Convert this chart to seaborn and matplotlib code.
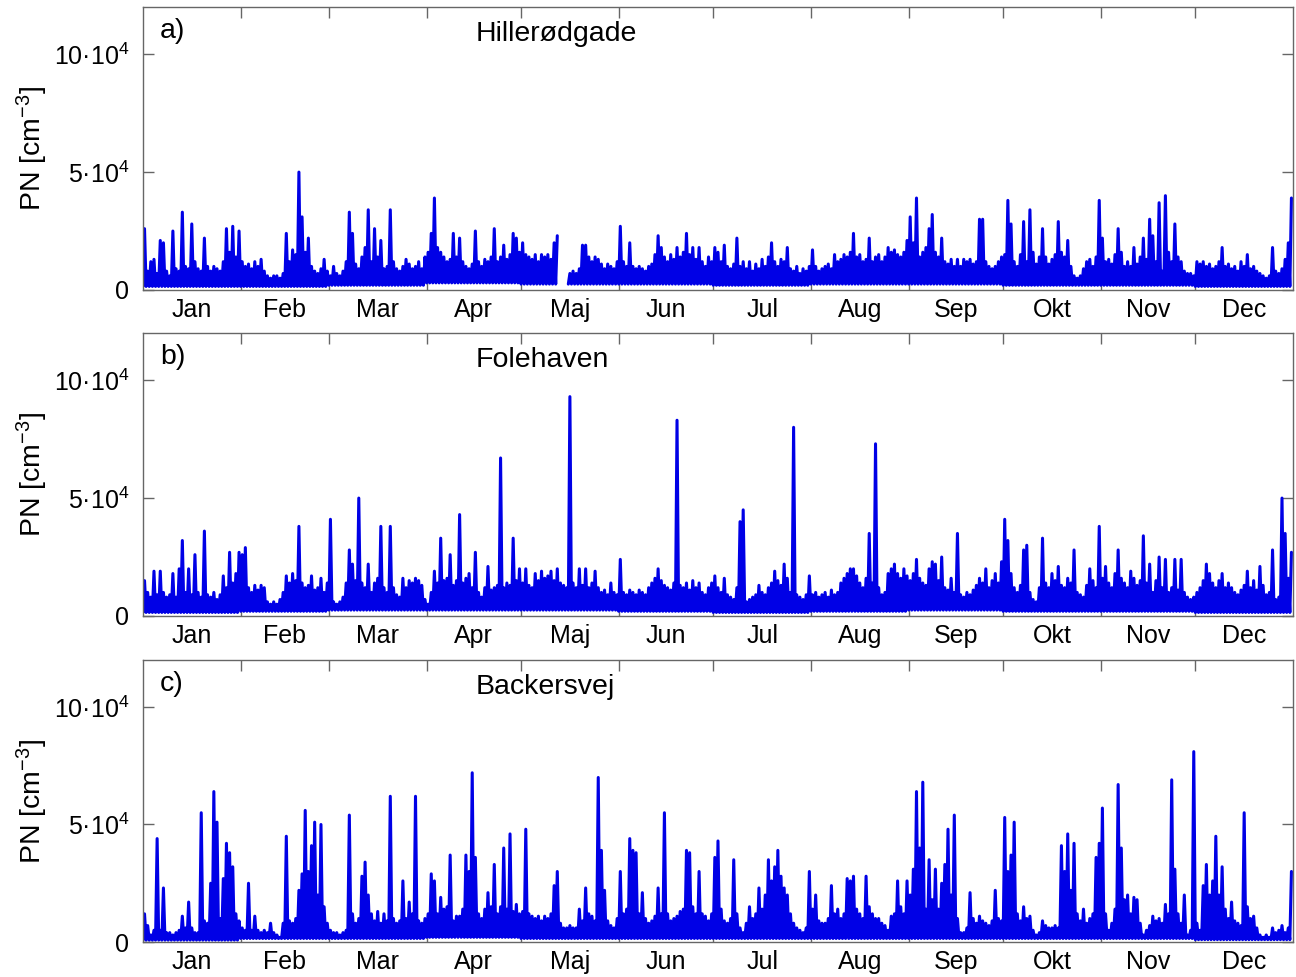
import numpy as np
import pandas as pd
import seaborn as sns
import matplotlib.pyplot as plt

# %% Data
MONTHS = ["Jan", "Feb", "Mar", "Apr", "Maj", "Jun", "Jul", "Aug", "Sep", "Okt", "Nov", "Dec"]
MONTH_DAYS = [31, 28, 31, 30, 31, 30, 31, 31, 30, 31, 30, 31]
STATIONS = ["Hillerødgade", "Folehaven", "Backersvej"]
PANEL_TAGS = ["a)", "b)", "c)"]
nan = np.nan

# daily maximum PN, 10^3 cm^-3, one row per month
hi_hillerod = [
    [26, 8, 12, 13, 7, 21, 20, 8, 6, 25, 9, 8, 33, 10, 9, 28, 12, 9, 8, 22, 10, 8, 10, 9, 8, 12, 26, 16, 27, 14, 25],
    [12, 10, 11, 9, 12, 10, 13, 8, 6, 5, 6, 6, 5, 7, 24, 12, 17, 15, 50, 31, 16, 22, 10, 8, 7, 9, 13, 8],
    [6, 10, 7, 6, 8, 12, 33, 24, 11, 9, 14, 18, 34, 12, 26, 14, 21, 9, 10, 34, 12, 9, 8, 10, 13, 11, 9, 10, 12, 9, 14],
    [16, 24, 39, 18, 16, 14, 12, 13, 24, 14, 22, 12, 10, 9, 11, 25, 12, 10, 13, 12, 14, 26, 12, 14, 19, 13, 15, 24, 22, 16],
    [20, 15, 14, 13, 15, 12, 15, 14, 15, 13, 20, 23, nan, nan, nan, 7, 8, 7, 9, 19, 19, 14, 12, 14, 13, 11, 9, 11, 10, 9, 12],
    [27, 12, 10, 20, 10, 9, 10, 9, 8, 10, 11, 15, 23, 18, 14, 12, 15, 13, 18, 14, 16, 24, 15, 18, 13, 18, 12, 10, 14, 12],
    [18, 16, 12, 19, 10, 9, 11, 22, 10, 12, 9, 12, 8, 11, 9, 13, 10, 14, 20, 12, 10, 13, 12, 18, 9, 8, 10, 7, 9, 8, 10],
    [17, 10, 8, 9, 10, 11, 9, 15, 12, 13, 15, 14, 16, 24, 14, 15, 12, 13, 22, 12, 14, 15, 12, 14, 18, 16, 17, 15, 14, 16, 21],
    [31, 20, 39, 14, 16, 18, 26, 32, 16, 14, 22, 12, 11, 13, 10, 13, 10, 13, 12, 13, 11, 12, 30, 30, 12, 10, 9, 10, 12, 14],
    [15, 38, 28, 12, 10, 15, 29, 12, 34, 16, 11, 14, 26, 14, 11, 13, 15, 29, 16, 14, 21, 10, 6, 5, 6, 9, 12, 13, 10, 14, 38],
    [22, 12, 13, 11, 15, 26, 16, 10, 12, 10, 18, 11, 14, 22, 13, 30, 23, 12, 37, 8, 40, 16, 12, 28, 14, 12, 8, 7, 7, 6],
    [12, 11, 12, 10, 11, 9, 10, 12, 18, 10, 11, 9, 10, 8, 12, 10, 15, 9, 10, 8, 7, 6, 5, 6, 18, 8, 7, 9, 13, 20, 39],
]
hi_folehaven = [
    [15, 10, 8, 19, 9, 19, 10, 8, 9, 18, 8, 20, 32, 10, 20, 9, 26, 10, 8, 36, 9, 8, 10, 7, 9, 17, 12, 27, 14, 18, 27],
    [26, 29, 12, 10, 13, 11, 13, 12, 6, 5, 6, 5, 7, 10, 17, 14, 18, 15, 38, 14, 12, 13, 17, 11, 12, 16, 10, 14],
    [41, 6, 5, 6, 8, 14, 28, 22, 15, 50, 14, 12, 22, 10, 14, 16, 38, 12, 10, 38, 12, 9, 8, 16, 12, 15, 14, 16, 15, 13, 7],
    [5, 10, 19, 14, 33, 15, 16, 26, 13, 15, 43, 14, 16, 18, 12, 27, 10, 8, 12, 21, 11, 12, 13, 67, 12, 14, 13, 33, 15, 20],
    [14, 20, 13, 12, 18, 15, 19, 16, 17, 19, 15, 20, 14, 13, 12, 93, 14, 12, 20, 13, 20, 12, 14, 19, 12, 10, 11, 9, 14, 10, 9],
    [24, 10, 9, 11, 10, 9, 11, 10, 9, 12, 14, 16, 20, 15, 13, 12, 11, 14, 83, 13, 12, 14, 11, 15, 12, 14, 10, 9, 12, 14],
    [17, 12, 10, 16, 9, 8, 7, 12, 40, 45, 6, 7, 8, 9, 13, 10, 9, 12, 14, 19, 15, 13, 22, 16, 10, 80, 9, 8, 7, 9, 17],
    [9, 10, 8, 9, 10, 8, 11, 9, 10, 14, 16, 18, 20, 20, 17, 14, 12, 16, 35, 14, 73, 12, 9, 10, 18, 20, 22, 18, 16, 20, 17],
    [15, 18, 24, 16, 14, 13, 20, 23, 22, 15, 25, 12, 11, 16, 10, 35, 9, 8, 10, 9, 11, 13, 16, 14, 20, 12, 15, 18, 14, 23],
    [41, 32, 18, 12, 10, 13, 28, 30, 10, 7, 6, 12, 33, 14, 12, 18, 15, 21, 13, 12, 16, 14, 28, 10, 9, 8, 13, 20, 15, 12, 38],
    [16, 21, 14, 12, 18, 28, 16, 14, 12, 19, 16, 13, 15, 34, 14, 22, 10, 15, 25, 12, 24, 10, 12, 24, 11, 24, 10, 8, 7, 8],
    [10, 12, 15, 22, 18, 14, 12, 15, 18, 12, 14, 12, 10, 9, 11, 13, 19, 12, 15, 11, 21, 13, 9, 10, 28, 7, 8, 50, 35, 16, 27],
]
hi_backersvej = [
    [12, 7, 3, 5, 44, 5, 23, 4, 4, 3, 4, 5, 11, 6, 17, 6, 4, 4, 55, 9, 8, 25, 64, 51, 10, 27, 42, 38, 32, 12, 9],
    [6, 5, 25, 5, 11, 5, 4, 5, 4, 8, 4, 3, 2, 8, 45, 9, 8, 10, 22, 29, 56, 30, 41, 51, 20, 50, 15, 8],
    [5, 4, 4, 3, 4, 5, 54, 12, 8, 10, 28, 34, 20, 12, 9, 13, 8, 12, 9, 62, 10, 8, 9, 26, 10, 17, 12, 62, 9, 8, 10],
    [12, 29, 26, 12, 19, 14, 15, 37, 9, 11, 11, 14, 37, 30, 72, 36, 12, 10, 14, 21, 15, 33, 12, 15, 40, 14, 46, 13, 16, 12],
    [13, 48, 12, 11, 10, 11, 9, 11, 10, 12, 24, 30, 8, 6, 6, 7, 6, 6, 14, 9, 23, 12, 11, 9, 70, 39, 22, 9, 7, 6, 10],
    [30, 12, 14, 44, 39, 38, 12, 21, 10, 8, 9, 11, 23, 12, 55, 12, 9, 10, 11, 13, 14, 39, 38, 15, 12, 30, 12, 11, 9, 12],
    [36, 43, 14, 9, 8, 10, 35, 12, 6, 4, 8, 15, 10, 12, 23, 14, 20, 35, 26, 32, 39, 28, 23, 20, 12, 8, 6, 5, 4, 6, 30],
    [14, 20, 9, 8, 8, 10, 24, 12, 14, 10, 12, 27, 26, 28, 14, 12, 10, 28, 15, 12, 10, 10, 8, 7, 5, 11, 12, 26, 15, 12, 26],
    [20, 31, 64, 40, 68, 14, 35, 18, 31, 14, 25, 33, 48, 20, 54, 10, 4, 4, 6, 21, 10, 8, 11, 9, 8, 7, 9, 22, 10, 9],
    [53, 30, 37, 51, 12, 9, 15, 10, 11, 5, 3, 4, 9, 7, 6, 6, 7, 6, 41, 30, 46, 22, 42, 12, 9, 14, 8, 10, 12, 36, 42],
    [57, 12, 5, 8, 14, 67, 40, 18, 20, 12, 19, 18, 8, 3, 5, 7, 11, 9, 10, 8, 16, 12, 69, 31, 12, 8, 20, 3, 5, 81],
    [8, 5, 24, 33, 20, 26, 45, 20, 32, 14, 10, 17, 9, 8, 7, 55, 15, 10, 11, 6, 3, 2, 3, 2, 6, 4, 5, 7, 4, 6, 30],
]

# baseline (night-time minimum) per month, 10^3 cm^-3
lo_hillerod = [1.5, 1.5, 2.0, 3.0, 2.5, 2.5, 2.0, 2.5, 2.5, 2.0, 2.0, 1.5]
lo_folehaven = [1.5, 2.0, 2.5, 2.5, 2.5, 2.0, 1.5, 2.0, 2.5, 2.0, 2.0, 1.5]
lo_backersvej = [0.8, 1.5, 1.5, 2.0, 1.5, 1.5, 1.5, 1.5, 1.5, 1.5, 1.5, 1.0]

Y_TICKS = [0, 5e4, 10e4]
Y_TICK_LABELS = ["0", "5·10$^4$", "10·10$^4$"]
AXIS_GREY = "#666666"


# %%
def build_series(hi_months, lo_months):
    hi = np.concatenate([np.asarray(m, dtype=float) for m in hi_months])
    lo = np.repeat(np.asarray(lo_months, dtype=float), MONTH_DAYS)
    days = np.arange(len(hi))
    x = np.column_stack([days, days + 0.5]).ravel()
    y = np.column_stack([lo, hi]).ravel() * 1000
    miss = np.repeat(np.isnan(hi), 2)
    y[miss] = np.nan
    df = pd.DataFrame({"day": x, "pn": y, "seg": np.cumsum(miss)})
    return df.dropna()


def style_axis(ax):
    edges = np.cumsum(MONTH_DAYS)[:-1]
    mids = np.cumsum(MONTH_DAYS) - np.array(MONTH_DAYS) / 2
    ax.set_xlim(0, 365)
    ax.set_ylim(0, 1.2e5)
    ax.set_xticks(edges)
    ax.set_xticklabels([])
    ax.set_xticks(mids, minor=True)
    ax.set_xticklabels(MONTHS, minor=True)
    ax.set_yticks(Y_TICKS)
    ax.set_yticklabels(Y_TICK_LABELS)
    ax.tick_params(axis="both", which="major", direction="in", length=8, width=1,
                   color=AXIS_GREY, labelcolor="black", top=True, right=True, labelsize=18)
    ax.tick_params(axis="x", which="minor", length=0, pad=6, labelsize=18, labelcolor="black")
    ax.tick_params(axis="y", which="major", pad=10)
    for sp in ax.spines.values():
        sp.set_visible(True)
        sp.set_color(AXIS_GREY)
        sp.set_linewidth(1)
    ax.set_xlabel("")
    ax.set_ylabel("PN [cm$^{-3}$]", fontsize=20.5, color="black")
    ax.yaxis.set_label_coords(-0.081, 0.5)


def main():
    sns.set_style("ticks")
    plt.rcParams["font.family"] = ["Liberation Sans", "DejaVu Sans"]
    plt.rcParams["text.color"] = "black"
    plt.rcParams["mathtext.fontset"] = "custom"
    plt.rcParams["mathtext.rm"] = "Liberation Sans"
    plt.rcParams["mathtext.it"] = "Liberation Sans:italic"
    plt.rcParams["mathtext.bf"] = "Liberation Sans:bold"

    series = [
        build_series(hi_hillerod, lo_hillerod),
        build_series(hi_folehaven, lo_folehaven),
        build_series(hi_backersvej, lo_backersvej),
    ]

    fig = plt.figure(figsize=(12.96, 9.77), dpi=100)
    boxes = [(0.1103, 0.7032, 0.8874, 0.2896),
             (0.1103, 0.3695, 0.8874, 0.2897),
             (0.1103, 0.0358, 0.8874, 0.2887)]
    for df, box, name, tag in zip(series, boxes, STATIONS, PANEL_TAGS):
        ax = fig.add_axes(box)
        sns.lineplot(data=df, x="day", y="pn", units="seg", estimator=None, sort=False,
                     color="#0000e6", linewidth=2.2, legend=False, ax=ax)
        style_axis(ax)
        ax.text(0.0148, 0.915, tag, transform=ax.transAxes, fontsize=20.5, va="center")
        ax.text(0.289, 0.905, name, transform=ax.transAxes, fontsize=20.5, va="center")

    fig.savefig("out.png", dpi=100)


if __name__ == "__main__":
    main()
